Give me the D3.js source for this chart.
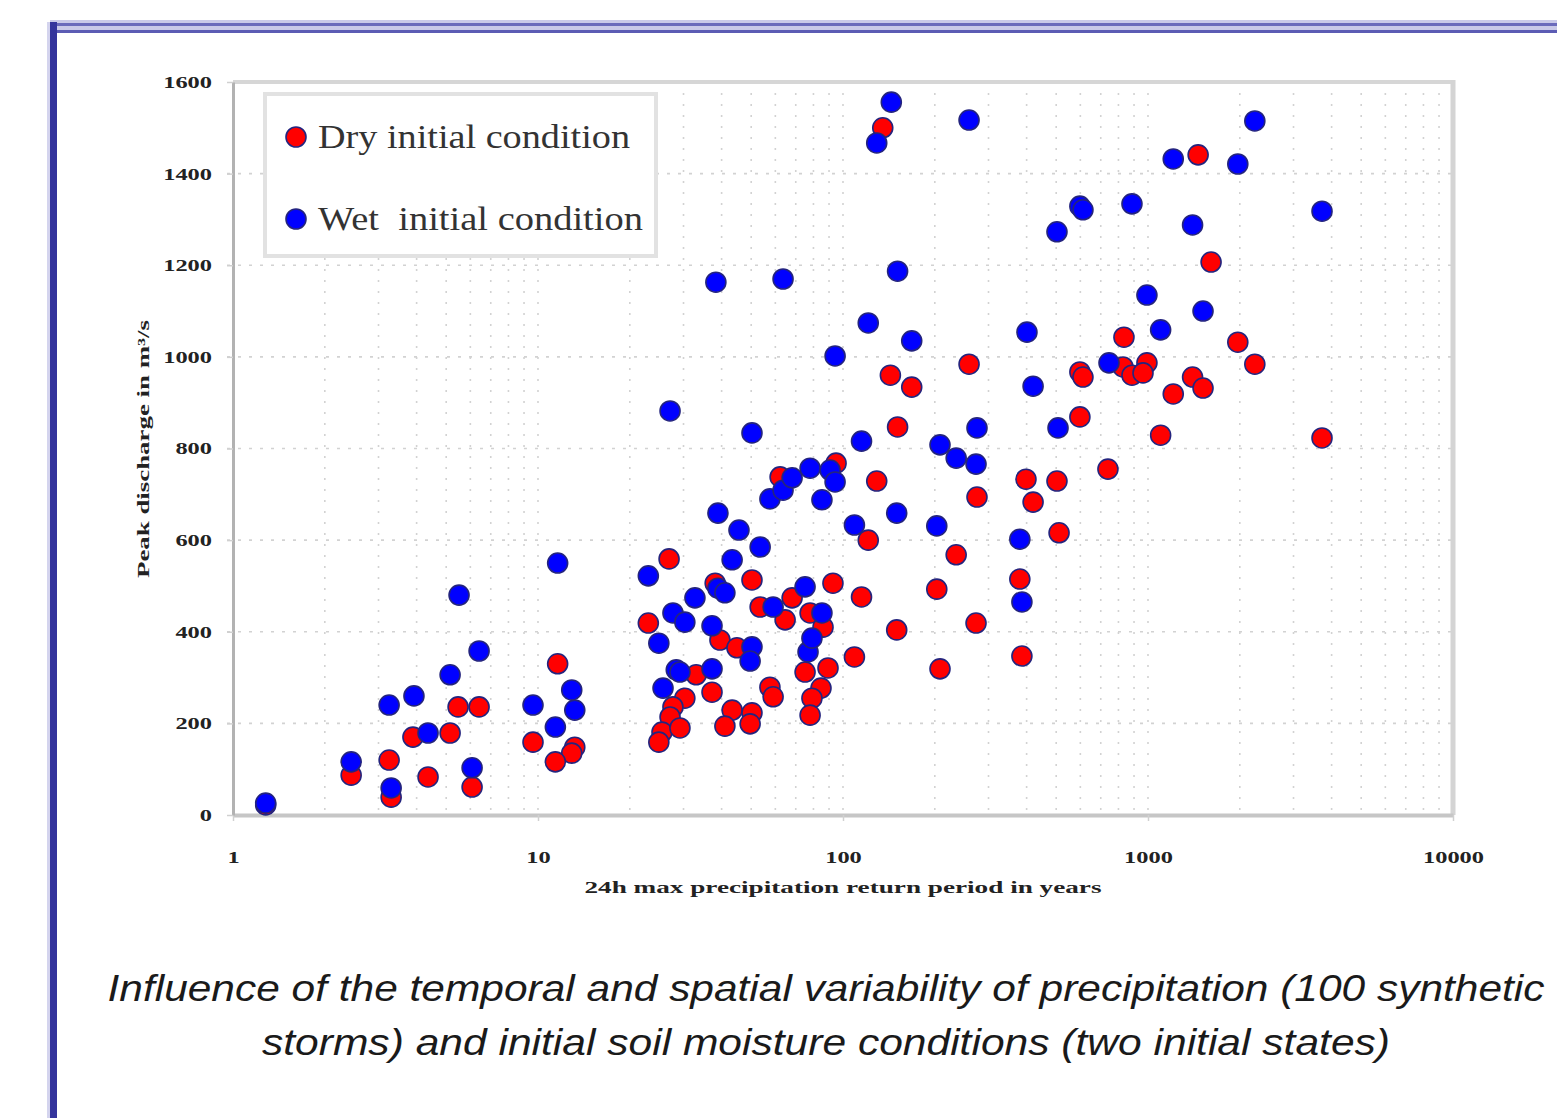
<!DOCTYPE html>
<html>
<head>
<meta charset="utf-8">
<script src="https://cdn.jsdelivr.net/npm/d3@7/dist/d3.min.js"></script>
<style>
  body { margin: 0; background: #fff; }
  #canvas-div { width: 1557px; height: 1118px; }
</style>
</head>
<body>
<div id="canvas-div"></div>
<script>
// return period (years) / peak discharge (m3/s)
const dryReturnPeriod = [135, 1460, 1610, 834, 1970, 2240, 259, 143, 168, 598, 612, 828, 886, 992, 963, 1210, 1400, 1515,
    598, 151, 1100, 3720, 94.9, 129, 739, 398, 503, 62.2, 275, 420, 121, 511, 235, 380, 92.7, 115, 203, 50.3, 38.1, 26.9,
    68.1, 53.5, 78, 64.6, 86, 150, 273, 23, 39.5, 44.9, 109, 386, 208, 89.3, 75.1, 33, 37.2, 30.3, 84.7, 57.6, 59, 27.7,
    27.1, 79.1, 78, 43.3, 50.3, 41, 49.6, 25.5, 29.2, 24.9, 1.28, 2.44, 3.25, 3.3, 3.89, 4.36, 5.15, 5.47, 6.41, 6.08,
    9.63, 11.6, 13.2, 12.9, 11.4];
const dryPeakDischarge = [1500, 1441, 1207, 1043, 1032, 984, 984, 960, 934, 967, 956, 978, 960, 987, 965, 919, 956, 932,
    869, 847, 829, 823, 768, 729, 755, 733, 729, 738, 694, 683, 600, 616, 568, 515, 506, 476, 493, 513, 506, 559,
    474, 454, 441, 426, 410, 404, 419, 419, 382, 365, 345, 347, 319, 321, 312, 306, 268, 255, 277, 279, 258, 236,
    214, 255, 218, 229, 223, 194, 199, 181, 190, 159, 22, 87, 120, 39, 170, 83, 179, 236, 236, 61,
    159, 330, 148, 135, 116];

const wetReturnPeriod = [1.28, 2.44, 3.25, 3.3, 3.92, 4.36, 5.15, 5.51, 6.08, 6.41, 9.63, 11.4, 11.6, 12.9, 13.2,
    23, 24.9, 25.7, 27.1, 28.4, 29.2, 27.7, 30.3, 32.7, 37.2, 37.2, 38.3, 38.9, 38.9, 41, 43.3, 45.6, 50.3, 49.6, 50.3,
    53.5, 57.6, 59, 63.6, 63.6, 68.1, 75.1, 76.8, 79.1, 78, 85.3, 85.3, 90.7, 94.2, 94.2, 109, 115, 121, 129, 144, 151,
    150, 168, 203, 208, 235, 259, 273, 275, 380, 386, 401, 420, 503, 507, 598, 612, 745, 886, 992, 1100, 1210, 1400,
    1515, 1970, 2240, 3720];
const wetPeakDischarge = [26, 116, 240, 59, 260, 179, 306, 480, 103, 358, 240, 192, 550, 273, 229,
    522, 375, 277, 882, 317, 312, 441, 421, 474, 413, 319, 1163, 659, 495, 485, 557, 622, 367, 336, 834,
    585, 690, 454, 1170, 709, 736, 498, 356, 386, 757, 441, 688, 753, 727, 1002, 633, 816, 1074, 1467, 1556, 1187,
    659, 1035, 631, 808, 779, 1517, 766, 845, 602, 465, 1054, 936, 1273, 845, 1329, 1321, 987, 1334, 1135, 1059, 1432, 1288,
    1100, 1421, 1515, 1318];

const xTickValues = [1, 10, 100, 1000, 10000];
const yTickValues = [0, 200, 400, 600, 800, 1000, 1200, 1400, 1600];
const legendLabels = ["Dry initial condition", "Wet  initial condition"];
const captionLines = [
    "Influence of the temporal and spatial variability of precipitation (100 synthetic",
    "storms) and initial soil moisture conditions (two initial states)"
];

const plot = { left: 233, right: 1453, top: 82, bottom: 815 };
const seriesColors = ["#ff0000", "#0000ff"];

const svg = d3.select("#canvas-div")
    .append("svg")
    .attr("width", 1557)
    .attr("height", 1118)
    .style("background-color", "white");

// blue slide frame
svg.append("rect").attr("x", 50).attr("y", 20).attr("width", 1507).attr("height", 13).attr("fill", "#c9c9e8");
svg.append("line").attr("x1", 50).attr("x2", 1557).attr("y1", 24.5).attr("y2", 24.5)
    .attr("stroke", "#6a6abb").attr("stroke-width", 3);
svg.append("line").attr("x1", 50).attr("x2", 1557).attr("y1", 31.5).attr("y2", 31.5)
    .attr("stroke", "#5c5cb4").attr("stroke-width", 3);
svg.append("rect").attr("x", 47).attr("y", 22).attr("width", 3).attr("height", 1096).attr("fill", "#d4d4ee");
svg.append("rect").attr("x", 50).attr("y", 22).attr("width", 7).attr("height", 1096).attr("fill", "#34349c");

const xScale = d3.scaleLog().domain([1, 10000]).range([plot.left, plot.right]);
const yScale = d3.scaleLinear().domain([0, 1600]).range([plot.bottom, plot.top]);

//grid
const minorX = [];
for (let p = 1; p <= 1000; p *= 10) {
    for (let k = 1; k <= 9; k++) {
        if (p * k > 1) minorX.push(p * k);
    }
}
svg.append("g").selectAll("line")
    .data(minorX)
    .enter()
    .append("line")
    .attr("x1", d => xScale(d)).attr("x2", d => xScale(d))
    .attr("y1", plot.top).attr("y2", plot.bottom)
    .attr("stroke", "#d2d2d2")
    .attr("stroke-width", 1.6)
    .attr("stroke-dasharray", "2,9");

svg.append("g").selectAll("line")
    .data(yTickValues.filter(d => d > 0 && d < 1600))
    .enter()
    .append("line")
    .attr("x1", plot.left - 6).attr("x2", plot.right)
    .attr("y1", d => yScale(d)).attr("y2", d => yScale(d))
    .attr("stroke", "#d2d2d2")
    .attr("stroke-width", 1.6)
    .attr("stroke-dasharray", "3,8");

// plot frame
svg.append("line").attr("x1", plot.left).attr("x2", plot.right + 2).attr("y1", plot.top).attr("y2", plot.top)
    .attr("stroke", "#d6d6d6").attr("stroke-width", 4);
svg.append("line").attr("x1", plot.right).attr("x2", plot.right).attr("y1", plot.top - 2).attr("y2", plot.bottom)
    .attr("stroke", "#d4d4d4").attr("stroke-width", 5);

//x and y axis
const xAxis = d3.axisBottom(xScale)
    .tickValues(xTickValues)
    .tickFormat(d3.format("d"))
    .tickSizeInner(6)
    .tickSizeOuter(0)
    .tickPadding(30);

const yAxis = d3.axisLeft(yScale)
    .tickValues(yTickValues)
    .tickFormat(d3.format("d"))
    .tickSizeInner(6)
    .tickSizeOuter(0)
    .tickPadding(15);

const gx = svg.append("g")
    .attr("transform", "translate(0," + plot.bottom + ")")
    .call(xAxis);
gx.select(".domain").attr("stroke", "#c6c6c6").attr("stroke-width", 4);

const gy = svg.append("g")
    .attr("transform", "translate(" + plot.left + ",0)")
    .call(yAxis);
gy.select(".domain").attr("stroke", "#b2b2b2").attr("stroke-width", 3);

svg.selectAll(".tick line").attr("stroke", "#d0d0d0").attr("stroke-width", 1.5);
svg.selectAll(".tick text")
    .attr("font-family", "'Liberation Serif', 'Times New Roman', serif")
    .attr("font-weight", "bold")
    .attr("font-size", 17)
    .attr("fill", "#222")
    .attr("lengthAdjust", "spacingAndGlyphs")
    .attr("textLength", function () { return this.textContent.length * 12.2; });

// points (dry first, wet drawn over it)
const dryData = dryReturnPeriod.map((t, i) => ({ t: t, q: dryPeakDischarge[i] }));
const wetData = wetReturnPeriod.map((t, i) => ({ t: t, q: wetPeakDischarge[i] }));

[dryData, wetData].forEach((series, si) => {
    svg.append("g").selectAll("circle")
        .data(series)
        .enter()
        .append("circle")
        .attr("cx", d => xScale(d.t))
        .attr("cy", d => yScale(d.q))
        .attr("r", 10)
        .attr("fill", seriesColors[si])
        .attr("stroke", "#24247e")
        .attr("stroke-width", 1.6);
});

// legend
const legend = svg.append("g");
legend.append("rect")
    .attr("x", 265).attr("y", 94).attr("width", 391).attr("height", 162)
    .attr("fill", "white").attr("stroke", "#e2e2e2").attr("stroke-width", 4);

legend.selectAll("circle")
    .data(legendLabels)
    .enter()
    .append("circle")
    .attr("cx", 296)
    .attr("cy", (d, i) => 137 + i * 82)
    .attr("r", 10)
    .attr("fill", (d, i) => seriesColors[i])
    .attr("stroke", "#24247e")
    .attr("stroke-width", 1.6);

legend.selectAll("text")
    .data(legendLabels)
    .enter()
    .append("text")
    .attr("x", 318)
    .attr("y", (d, i) => 148 + i * 82)
    .attr("font-family", "'Liberation Serif', 'Times New Roman', serif")
    .attr("font-size", 34)
    .attr("fill", "#333")
    .style("white-space", "pre")
    .attr("lengthAdjust", "spacingAndGlyphs")
    .attr("textLength", (d, i) => i === 0 ? 312 : 325)
    .text(d => d);

// axis titles
svg.append("text")
    .attr("transform", "translate(149,449) rotate(-90)")
    .attr("text-anchor", "middle")
    .attr("font-family", "'Liberation Serif', 'Times New Roman', serif")
    .attr("font-weight", "bold")
    .attr("font-size", 16)
    .attr("fill", "#222")
    .attr("lengthAdjust", "spacingAndGlyphs")
    .attr("textLength", 258)
    .text("Peak discharge in m³/s");

svg.append("text")
    .attr("x", 843)
    .attr("y", 893)
    .attr("text-anchor", "middle")
    .attr("font-family", "'Liberation Serif', 'Times New Roman', serif")
    .attr("font-weight", "bold")
    .attr("font-size", 17)
    .attr("fill", "#222")
    .attr("lengthAdjust", "spacingAndGlyphs")
    .attr("textLength", 517)
    .text("24h max precipitation return period in years");

// caption
svg.selectAll(".caption")
    .data(captionLines)
    .enter()
    .append("text")
    .attr("class", "caption")
    .attr("x", 826)
    .attr("y", (d, i) => 1001 + i * 54)
    .attr("text-anchor", "middle")
    .attr("font-family", "'Liberation Sans', Arial, sans-serif")
    .attr("font-style", "italic")
    .attr("font-size", 37)
    .attr("fill", "#1a1a1a")
    .attr("lengthAdjust", "spacingAndGlyphs")
    .attr("textLength", (d, i) => i === 0 ? 1437 : 1128)
    .text(d => d);
</script>
</body>
</html>
